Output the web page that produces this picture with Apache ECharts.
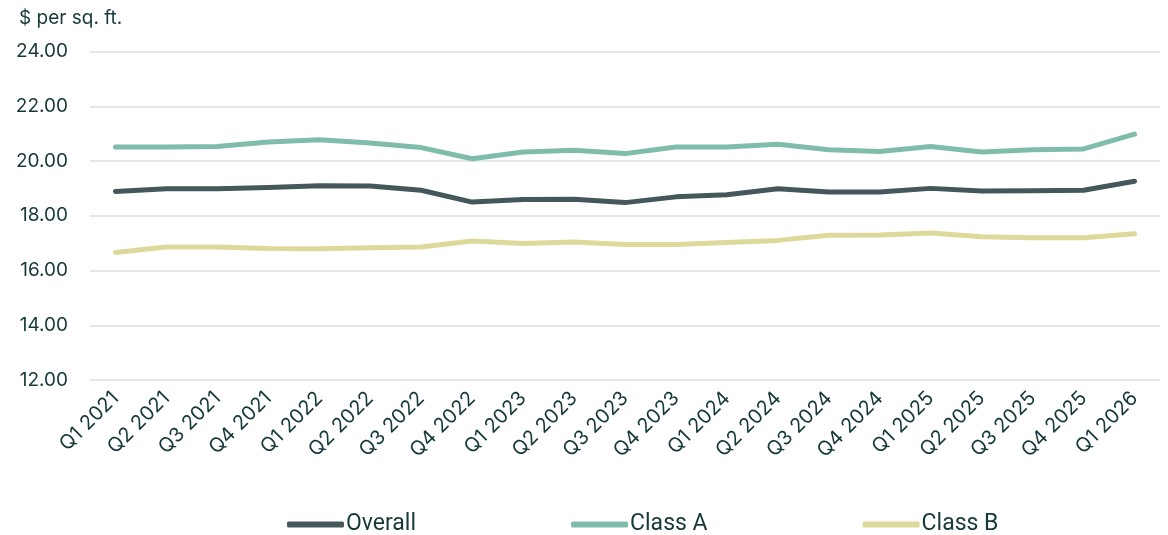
<!DOCTYPE html>
<html>
<head>
<meta charset="utf-8">
<script src="https://cdn.jsdelivr.net/npm/echarts@6/dist/echarts.min.js"></script>
<style>
  html, body { margin: 0; padding: 0; background: #fff; }
  #chart { width: 1168px; height: 535px; }
</style>
</head>
<body>
<div id="chart"></div>
<script>
// quarters on the x axis
const quarters = [
  'Q1 2021', 'Q2 2021', 'Q3 2021', 'Q4 2021',
  'Q1 2022', 'Q2 2022', 'Q3 2022', 'Q4 2022',
  'Q1 2023', 'Q2 2023', 'Q3 2023', 'Q4 2023',
  'Q1 2024', 'Q2 2024', 'Q3 2024', 'Q4 2024',
  'Q1 2025', 'Q2 2025', 'Q3 2025', 'Q4 2025',
  'Q1 2026'
];

// asking rent, $ per sq. ft.
const overall = [18.89, 18.99, 18.99, 19.03, 19.10, 19.09, 18.93, 18.50, 18.59, 18.60, 18.48,
  18.69, 18.77, 18.99, 18.87, 18.87, 19.00, 18.90, 18.91, 18.93, 19.26];
const classA = [20.51, 20.51, 20.53, 20.69, 20.78, 20.66, 20.49, 20.08, 20.33, 20.39, 20.27,
  20.51, 20.51, 20.61, 20.41, 20.35, 20.53, 20.33, 20.41, 20.44, 20.98];
const classB = [16.66, 16.86, 16.86, 16.80, 16.79, 16.83, 16.86, 17.08, 16.99, 17.04, 16.95,
  16.95, 17.02, 17.10, 17.29, 17.30, 17.37, 17.23, 17.20, 17.20, 17.34];

const textColor = '#17393a';

const chart = echarts.init(document.getElementById('chart'));

function lineSeries(name, data, color) {
  return {
    name: name,
    type: 'line',
    data: data,
    symbol: 'none',
    lineStyle: { width: 5, color: color, cap: 'round', join: 'round' },
    itemStyle: { color: color }
  };
}

chart.setOption({
  animation: false,
  title: {
    text: '$ per sq. ft.',
    left: 14,
    top: 4,
    textStyle: { fontFamily: 'Inter', fontSize: 19, fontWeight: 'normal', color: textColor }
  },
  grid: { left: 90, right: 8, top: 51.5, bottom: 155 },
  legend: {
    bottom: -1,
    left: 287,
    padding: 0,
    itemWidth: 57,
    itemHeight: 6,
    itemGap: 155,
    icon: 'roundRect',
    textStyle: { fontFamily: 'Roboto', fontSize: 23, color: textColor, padding: [0, 0, 0, -3] },
    data: ['Overall', 'Class A', 'Class B']
  },
  xAxis: {
    type: 'category',
    data: quarters,
    boundaryGap: true,
    axisLine: { show: false },
    axisTick: { show: false },
    axisLabel: {
      interval: 0,
      rotate: 45,
      margin: 15,
      fontFamily: 'Inter',
      fontSize: 20,
      color: textColor
    }
  },
  yAxis: {
    type: 'value',
    min: 12,
    max: 24,
    interval: 2,
    axisLine: { show: false },
    axisTick: { show: false },
    splitLine: { lineStyle: { color: '#e3e7e7', width: 2 } },
    axisLabel: {
      margin: 22,
      fontFamily: 'Inter',
      fontSize: 19,
      color: textColor,
      formatter: v => v.toFixed(2)
    }
  },
  series: [
    lineSeries('Overall', overall, '#44575a'),
    lineSeries('Class A', classA, '#80bcab'),
    lineSeries('Class B', classB, '#dcd99a')
  ]
});
</script>
</body>
</html>
